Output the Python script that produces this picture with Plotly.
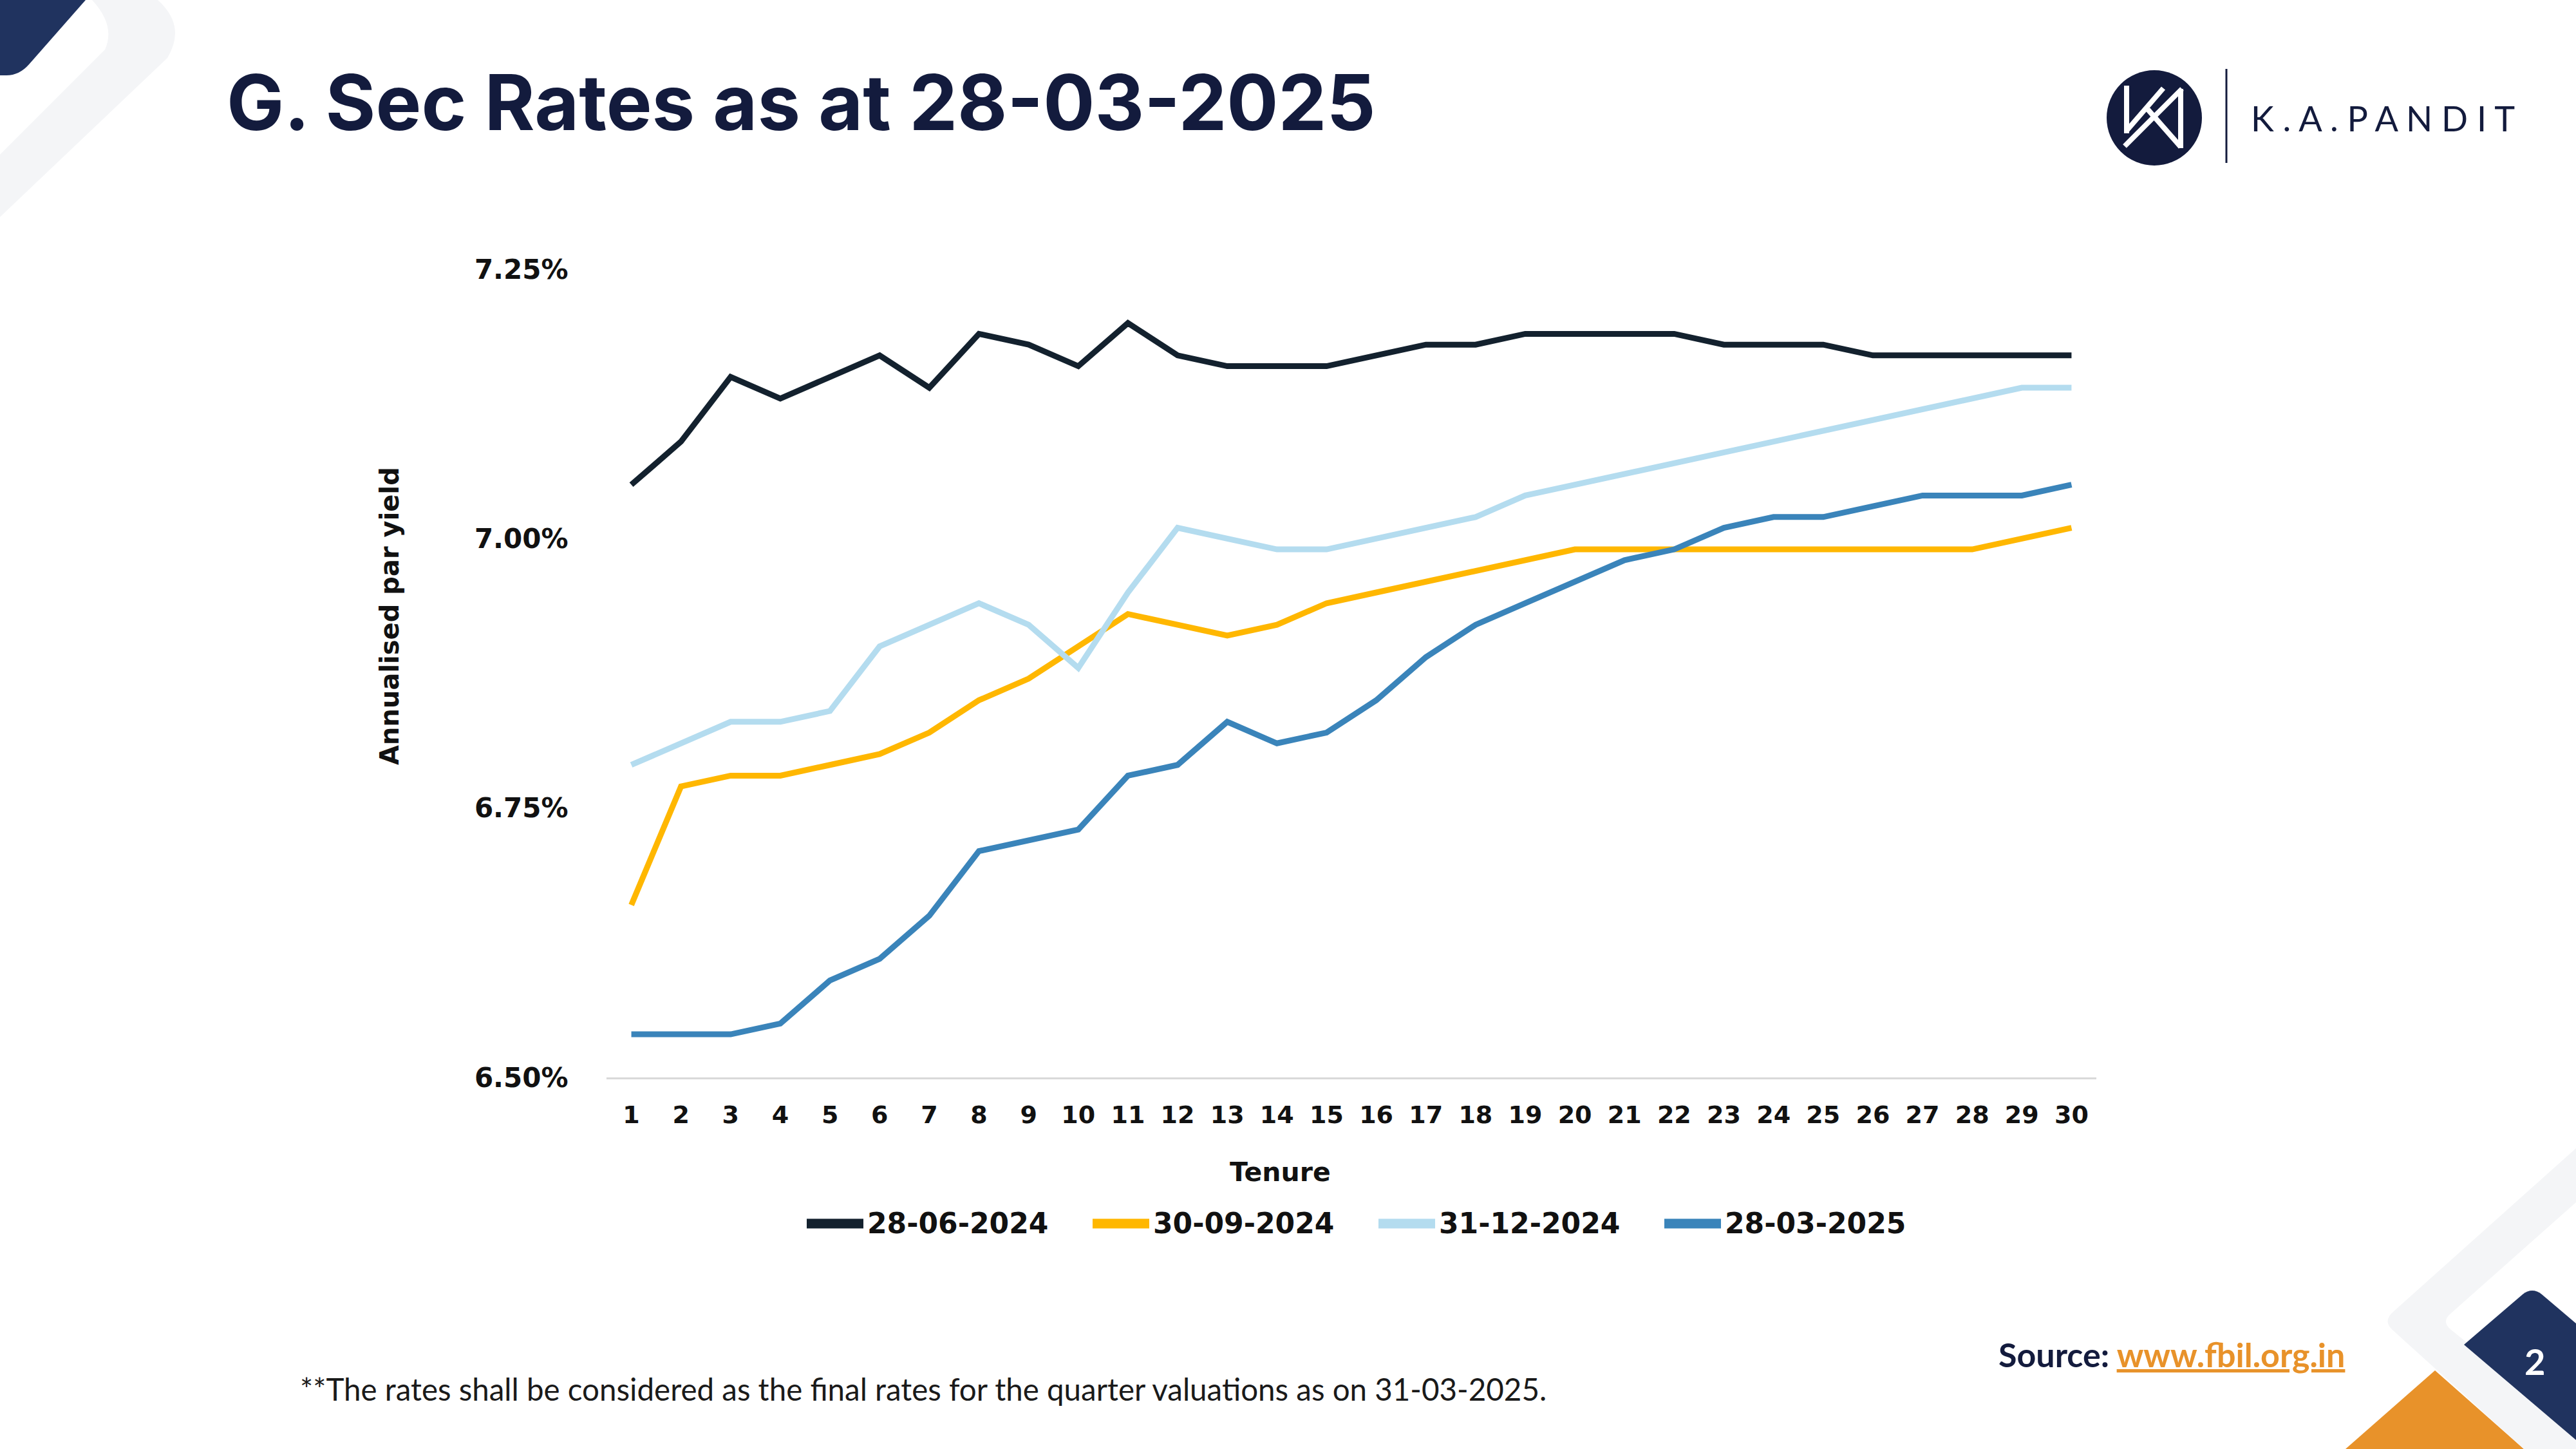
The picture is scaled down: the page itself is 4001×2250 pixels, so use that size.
import plotly.graph_objects as go

W, H = 4001, 2250

# data
tenure = list(range(1, 31))
dates = ['28-06-2024', '30-09-2024', '31-12-2024', '28-03-2025']
colors = ['#13212E', '#FFB700', '#B4DCEF', '#3A84BA']

rate_jun24 = [7.05, 7.09, 7.15, 7.13, 7.15, 7.17, 7.14, 7.19, 7.18, 7.16,
              7.20, 7.17, 7.16, 7.16, 7.16, 7.17, 7.18, 7.18, 7.19, 7.19,
              7.19, 7.19, 7.18, 7.18, 7.18, 7.17, 7.17, 7.17, 7.17, 7.17]
rate_sep24 = [6.66, 6.77, 6.78, 6.78, 6.79, 6.80, 6.82, 6.85, 6.87, 6.90,
              6.93, 6.92, 6.91, 6.92, 6.94, 6.95, 6.96, 6.97, 6.98, 6.99,
              6.99, 6.99, 6.99, 6.99, 6.99, 6.99, 6.99, 6.99, 7.00, 7.01]
rate_dec24 = [6.79, 6.81, 6.83, 6.83, 6.84, 6.90, 6.92, 6.94, 6.92, 6.88,
              6.95, 7.01, 7.00, 6.99, 6.99, 7.00, 7.01, 7.02, 7.04, 7.05,
              7.06, 7.07, 7.08, 7.09, 7.10, 7.11, 7.12, 7.13, 7.14, 7.14]
rate_mar25 = [6.54, 6.54, 6.54, 6.55, 6.59, 6.61, 6.65, 6.71, 6.72, 6.73,
              6.78, 6.79, 6.83, 6.81, 6.82, 6.85, 6.89, 6.92, 6.94, 6.96,
              6.98, 6.99, 7.01, 7.02, 7.02, 7.03, 7.04, 7.04, 7.04, 7.05]
y_ticks = [6.50, 6.75, 7.00, 7.25]

series = [rate_jun24, rate_sep24, rate_dec24, rate_mar25]

NAVY = '#131B3D'
BLUE_DARK = '#20335F'
ORANGE = '#E8922A'
PALE = '#F4F5F7'
TXT = '#111111'


# pixel -> paper helpers (margins are zero so paper = whole page)
def px(x):
    return x / W


def py(y):
    return 1 - y / H


def path(cmds):
    out = []
    for c in cmds:
        if isinstance(c, str):
            out.append(c)
        else:
            out.append(f'{px(c[0]):.5f},{py(c[1]):.5f}')
    return ' '.join(out)


fig = go.Figure()
for name, vals, col in zip(dates, series, colors):
    fig.add_trace(go.Scatter(x=tenure, y=vals, name=name, mode='lines',
                             line=dict(color=col, width=9), showlegend=False))

shapes = []


def add_path(cmds, color):
    shapes.append(dict(type='path', xref='paper', yref='paper', path=path(cmds),
                       fillcolor=color, line=dict(width=0), layer='below'))


# corner decorations
add_path(['M', (0, 0), 'L', (133, 0), 'L', (45, 100), 'Q', (30, 117), (10, 117), 'L', (0, 117), 'Z'], BLUE_DARK)
add_path(['M', (143, 0), 'L', (245, 0), 'Q', (290, 40), (260, 90), 'L', (0, 337), 'L', (0, 240),
          'L', (163, 77), 'Q', (180, 40), (143, 0), 'Z'], PALE)
add_path(['M', (3643, 2250), 'L', (3782, 2128), 'L', (3920, 2250), 'Z'], ORANGE)
add_path(['M', (4001, 1783), 'L', (3717, 2037), 'Q', (3700, 2052), (3717, 2066), 'L', (3920, 2250),
          'L', (4001, 2250), 'L', (4001, 2223), 'L', (3806, 2064), 'Q', (3792, 2052), (3806, 2040),
          'L', (4001, 1867), 'Z'], PALE)
add_path(['M', (3918, 2010), 'Q', (3933, 1998), (3948, 2010), 'L', (4001, 2055), 'L', (4001, 2236),
          'L', (3827, 2088), 'Z'], BLUE_DARK)

# logo
shapes.append(dict(type='circle', xref='paper', yref='paper', x0=px(3272), x1=px(3420),
                   y0=py(257), y1=py(109), fillcolor=NAVY, line=dict(width=0)))
for (x0, y0, x1, y1) in [(3303, 133, 3303, 207), (3303, 203, 3360, 137), (3300, 227, 3389, 138),
                         (3336, 170, 3387, 228), (3387, 138, 3387, 230)]:
    shapes.append(dict(type='line', xref='paper', yref='paper', x0=px(x0), y0=py(y0),
                       x1=px(x1), y1=py(y1), line=dict(color='white', width=8)))
shapes.append(dict(type='line', xref='paper', yref='paper', x0=px(3458), x1=px(3458),
                   y0=py(107), y1=py(253), line=dict(color=NAVY, width=3)))

annotations = []


def add_text(text, x, y, size, family, color=TXT, xanchor='left', angle=0):
    annotations.append(dict(text=text, x=px(x), y=py(y), xref='paper', yref='paper',
                            xanchor=xanchor, yanchor='middle', showarrow=False, textangle=angle,
                            font=dict(size=size, family=family, color=color)))


add_text('<b>G. Sec Rates as at 28-03-2025</b>', 350, 159, 119, 'Inter', NAVY)
add_text('K . A . P A N D I T', 3494, 184, 54, 'Lato', NAVY)
add_text('<b>Tenure</b>', 1988, 1820, 41, 'DejaVu Sans', xanchor='center')
add_text('<b>Annualised par yield</b>', 605, 957, 40, 'DejaVu Sans', xanchor='center', angle=-90)
add_text(f'<b>Source: <span style="color:{ORANGE}"><u>www.fbil.org.in</u></span></b>',
         3644, 2103, 52, 'Lato', NAVY, xanchor='right')
add_text('**The rates shall be considered as the final rates for the quarter valuations as on 31-03-2025.',
         464, 2156, 47.5, 'Lato', '#1a1a1a')
add_text('<b>2</b>', 3937, 2113, 56, 'Lato', 'white', xanchor='center')

# legend drawn by hand so the swatches are as long as in the original
for i, (name, col) in enumerate(zip(dates, colors)):
    x0 = 1253 + 444 * i
    shapes.append(dict(type='line', xref='paper', yref='paper', x0=px(x0), x1=px(x0 + 88),
                       y0=py(1900), y1=py(1900), line=dict(color=col, width=15)))
    add_text(f'<b>{name}</b>', x0 + 92, 1899, 44, 'DejaVu Sans')

fig.update_layout(
    width=W, height=H,
    margin=dict(l=0, r=0, t=0, b=0, autoexpand=False),
    paper_bgcolor='white', plot_bgcolor='white',
    shapes=shapes, annotations=annotations,
    xaxis=dict(domain=[px(942), px(3256)], range=[0.5, 30.5], tickvals=tenure, automargin=False,
               showgrid=False, zeroline=False, showline=True, linecolor='#D9D9D9', linewidth=3,
               ticks='outside', ticklen=22, tickcolor='rgba(0,0,0,0)',
               tickfont=dict(family='DejaVu Sans', size=38, color=TXT, weight='bold')),
    yaxis=dict(domain=[py(1673), py(418)], range=[6.5, 7.25], tickvals=y_ticks, automargin=False,
               ticktext=[f'{v:.2f}%' for v in y_ticks], showgrid=False, zeroline=False,
               showline=False, ticks='outside', ticklen=50, tickcolor='rgba(0,0,0,0)',
               tickfont=dict(family='DejaVu Sans', size=42, color=TXT, weight='bold')),
)

# drop the default page margin so the figure sits at the window corner
fig.write_html('out.html', config={'displayModeBar': False},
               post_script="document.body.style.margin='0px';")
